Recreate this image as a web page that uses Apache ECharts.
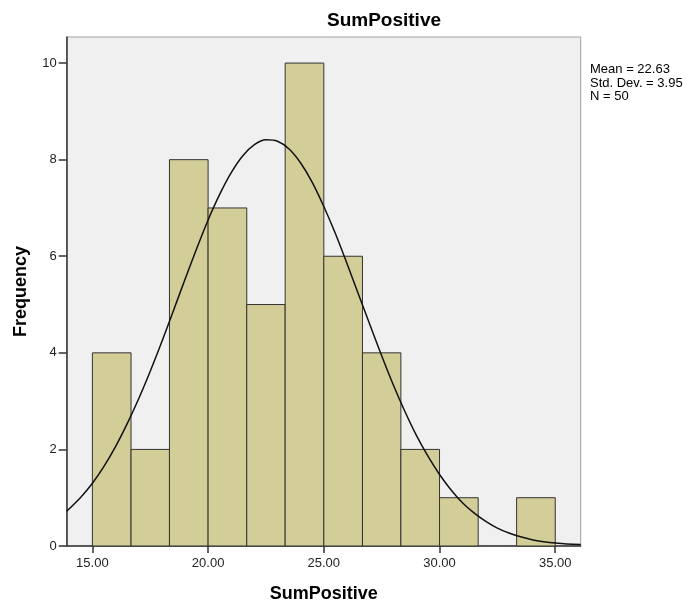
<!DOCTYPE html>
<html>
<head>
<meta charset="utf-8">
<script src="https://cdn.jsdelivr.net/npm/echarts@6/dist/echarts.min.js"></script>
<style>
  html, body { margin: 0; padding: 0; background: #fff; }
  #main { width: 688px; height: 604px; }
</style>
</head>
<body>
<div id="main"></div>
<script>
// histogram bins (SumPositive)
var binLo = [15.00, 16.67, 18.33, 20.00, 21.67, 23.33, 25.00, 26.67, 28.33, 30.00, 31.67, 33.33];
var binHi = [16.67, 18.33, 20.00, 21.67, 23.33, 25.00, 26.67, 28.33, 30.00, 31.67, 33.33, 35.00];
var counts = [4, 2, 8, 7, 5, 10, 6, 4, 2, 1, 0, 1];

// normal curve
var curveX = [13.89, 14.5, 15, 15.5, 16, 16.5, 17, 17.5, 18, 18.5, 19, 19.5, 20, 20.5, 21, 21.5, 22, 22.5,
              23, 23.5, 24, 24.5, 25, 25.5, 26, 26.5, 27, 27.5, 28, 28.5, 29, 29.5, 30, 30.5, 31, 31.5,
              32, 32.5, 33, 33.5, 34, 34.5, 35, 35.5, 36.1];
var curveY = [0.72, 1.01, 1.30, 1.65, 2.06, 2.53, 3.05, 3.62, 4.23, 4.87, 5.52, 6.15, 6.75, 7.28, 7.73, 8.08, 8.31, 8.41,
              8.38, 8.22, 7.93, 7.53, 7.03, 6.47, 5.85, 5.21, 4.57, 3.94, 3.34, 2.79, 2.29, 1.86, 1.48, 1.16, 0.89, 0.68,
              0.51, 0.37, 0.27, 0.19, 0.13, 0.09, 0.06, 0.04, 0.03];

var xTicks = [15, 20, 25, 30, 35];
var yTicks = [0, 2, 4, 6, 8, 10];
var statLines = ['Mean = 22.63', 'Std. Dev. = 3.95', 'N = 50'];

var FONT = '"Liberation Sans", Arial, sans-serif';

var barData = [];
for (var i = 0; i < counts.length; i++) {
  barData.push([binLo[i], binHi[i], counts[i]]);
}
var lineData = [];
for (var j = 0; j < curveX.length; j++) {
  lineData.push([curveX[j], curveY[j]]);
}

var chart = echarts.init(document.getElementById('main'));
var option = {
  animation: false,
  title: {
    text: 'SumPositive',
    left: 327,
    top: 11,
    padding: 0,
    textStyle: { fontFamily: FONT, fontSize: 19, fontWeight: 'bold', color: '#000' }
  },
  graphic: [{
    type: 'text',
    left: 590,
    top: 63,
    style: {
      text: statLines.join('\n'),
      font: '13px ' + FONT,
      lineHeight: 13.5,
      fill: '#000'
    }
  }],
  grid: {
    left: 66.7, right: 107.3, top: 37, bottom: 58,
    outerBoundsMode: 'none',
    containLabel: false,
    show: true,
    backgroundColor: '#f0f0f0',
    borderColor: '#a0a0a0',
    borderWidth: 1
  },
  xAxis: {
    type: 'value',
    min: 13.89,
    max: 36.1,
    name: 'SumPositive',
    nameLocation: 'middle',
    nameGap: 39,
    nameTextStyle: { fontFamily: FONT, fontSize: 18, fontWeight: 'bold', color: '#000' },
    axisLine: { onZero: false, lineStyle: { color: '#333', width: 1.5 } },
    axisTick: { customValues: xTicks, length: 7, lineStyle: { color: '#333', width: 1.5 } },
    axisLabel: {
      customValues: xTicks,
      margin: 11,
      fontFamily: FONT, fontSize: 13, color: '#222',
      formatter: function (v) { return v.toFixed(2); }
    },
    splitLine: { show: false }
  },
  yAxis: {
    type: 'value',
    min: 0,
    max: 10.54,
    name: 'Frequency',
    nameLocation: 'middle',
    nameGap: 37,
    nameTextStyle: { fontFamily: FONT, fontSize: 18, fontWeight: 'bold', color: '#000' },
    axisLine: { show: true, lineStyle: { color: '#333', width: 1.5 } },
    axisTick: { show: true, inside: false, customValues: yTicks, length: 8, lineStyle: { color: '#333', width: 1.5 } },
    axisLabel: {
      customValues: yTicks,
      margin: 10,
      fontFamily: FONT, fontSize: 13, color: '#222'
    },
    splitLine: { show: false }
  },
  series: [
    {
      type: 'custom',
      data: barData,
      encode: { x: [0, 1], y: 2 },
      renderItem: function (params, api) {
        var h = api.value(2);
        if (!h) return;
        var p0 = api.coord([api.value(0), h]);
        var p1 = api.coord([api.value(1), 0]);
        return {
          type: 'rect',
          shape: { x: p0[0], y: p0[1], width: p1[0] - p0[0], height: p1[1] - p0[1] },
          style: { fill: '#d3ce98', stroke: '#333', lineWidth: 1 }
        };
      },
      z: 2
    },
    {
      type: 'line',
      data: lineData,
      smooth: 0.3,
      showSymbol: false,
      lineStyle: { color: '#111', width: 1.5 },
      z: 3
    }
  ]
};
chart.setOption(option);
</script>
</body>
</html>
